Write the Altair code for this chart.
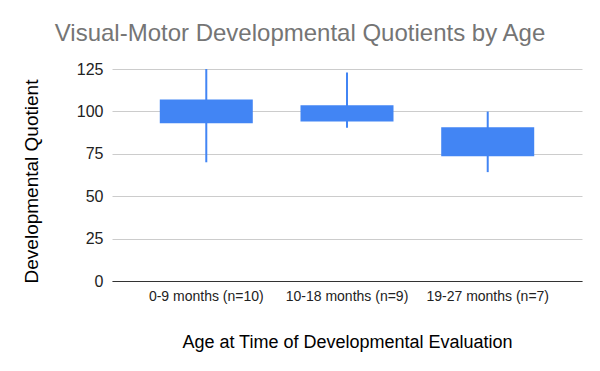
import altair as alt
import pandas as pd

groups = ["0-9 months (n=10)", "10-18 months (n=9)", "19-27 months (n=7)"]
low = [70, 90.3, 64.2]
q1 = [93, 94, 73.6]
q3 = [107, 103.6, 90.7]
high = [125, 123, 99.9]

df = pd.DataFrame({"group": groups, "low": low, "q1": q1, "q3": q3, "high": high})

FONT = "Liberation Sans"
BLUE = "#4285F4"

x = alt.X("group:N", sort=groups,
          scale=alt.Scale(paddingOuter=0.17, paddingInner=0),
          axis=alt.Axis(title="Age at Time of Developmental Evaluation", labelAngle=0,
                        labelFontSize=14, labelFont=FONT, labelColor="#222222",
                        labelPadding=8, ticks=False,
                        domainColor="#333333", domainWidth=1,
                        titleFont=FONT, titleFontSize=18, titleFontWeight="normal",
                        titleColor="#000000", titleX=235, titleY=66,
                        titleBaseline="alphabetic", titleAnchor="middle"))

y_axis = alt.Axis(title="Developmental Quotient", values=[0, 25, 50, 75, 100, 125],
                  labelFont=FONT, labelFontSize=16, labelFontWeight="normal",
                  labelColor="#222222",
                  labelPadding=9, ticks=False, domain=False,
                  gridColor="#cccccc", gridWidth=1,
                  titleFont=FONT, titleFontSize=19, titleFontWeight="normal",
                  titleColor="#000000", titleX=-74.5, titleY=112,
                  titleBaseline="alphabetic", titleAngle=-90, titleAnchor="middle")

base = alt.Chart(df)

rules = base.mark_rule(color=BLUE, strokeWidth=2).encode(
    x=x,
    y=alt.Y("low:Q", scale=alt.Scale(domain=[0, 125], nice=False), axis=y_axis),
    y2="high:Q",
)

boxes = base.mark_bar(color=BLUE, size=93).encode(
    x=x,
    y="q1:Q",
    y2="q3:Q",
)

chart = alt.layer(rules, boxes).properties(
    width=470,
    height=212,
    autosize=alt.AutoSizeParams(type="none"),
    padding={"left": 104, "top": 61, "right": 10, "bottom": 75},
    title=alt.Title("Visual-Motor Developmental Quotients by Age", anchor="middle",
                    frame="group", dx=-47, dy=-3, offset=0, baseline="middle",
                    font=FONT, fontSize=24,
                    fontWeight="normal", color="#757575"),
).configure_view(stroke=None)

chart.save("out.html", embed_options={"renderer": "svg", "actions": False})
